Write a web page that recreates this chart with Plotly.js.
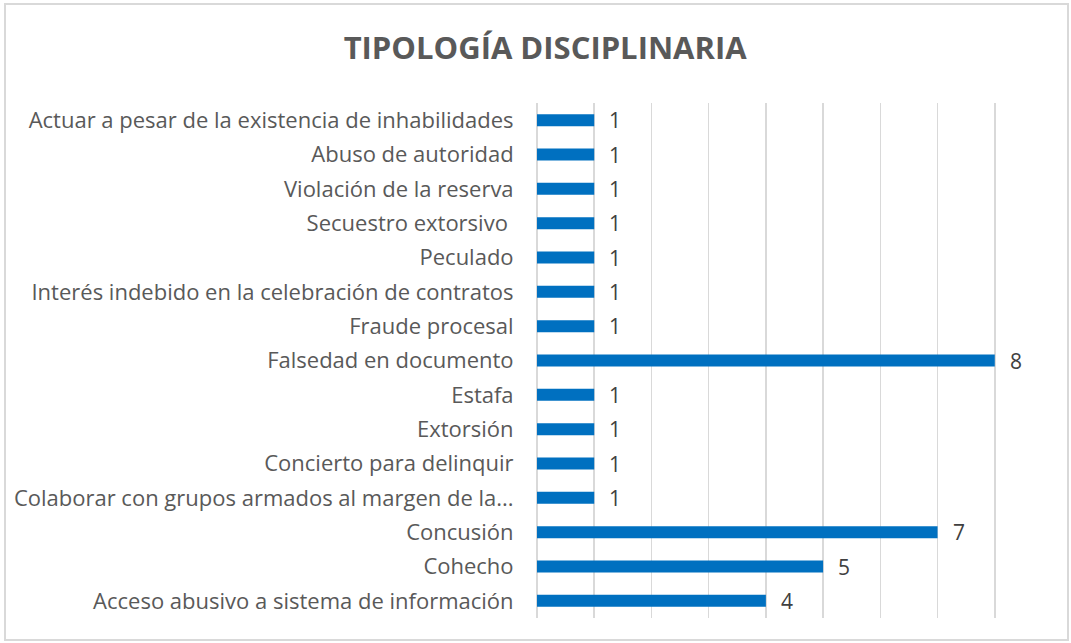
<!DOCTYPE html>
<html><head><meta charset="utf-8">
<script src="https://cdn.plot.ly/plotly-3.0.1.min.js"></script>
<style>
html,body{margin:0;padding:0;background:#fff;}
#chart{position:absolute;left:0;top:0;width:1071px;height:643px;}
#frame{position:absolute;left:4px;top:3px;width:1061px;height:634px;border:2px solid #d9d9d9;pointer-events:none;}
</style></head>
<body>
<div id="chart"></div>
<div id="frame"></div>
<script>
const categories = [
  "Acceso abusivo a sistema de información",
  "Cohecho",
  "Concusión",
  "Colaborar con grupos armados al margen de la...",
  "Concierto para delinquir",
  "Extorsión",
  "Estafa",
  "Falsedad en documento",
  "Fraude procesal",
  "Interés indebido en la celebración de contratos",
  "Peculado",
  "Secuestro extorsivo ",
  "Violación de la reserva",
  "Abuso de autoridad",
  "Actuar a pesar de la existencia de inhabilidades"
];
const values = [4, 5, 7, 1, 1, 1, 1, 8, 1, 1, 1, 1, 1, 1, 1];
const chartTitle = "TIPOLOGÍA DISCIPLINARIA";

const fontFam = "Open Sans, Liberation Sans, sans-serif";
const grey = "#595959";

const trace = {
  type: "bar",
  orientation: "h",
  y: categories,
  x: values,
  width: 0.35,
  marker: {color: "#0070C0"},
  hoverinfo: "x+y"
};

const annotations = categories.map((c, i) => ({
  x: values[i], y: c, xref: "x", yref: "y",
  text: String(values[i]),
  showarrow: false, xanchor: "left", yanchor: "middle",
  xshift: 13,
  font: {family: fontFam, size: 21, color: "#404040"}
}));

const layout = {
  width: 1071, height: 643,
  margin: {l: 537, r: 19, t: 103, b: 25, pad: 0},
  paper_bgcolor: "rgba(0,0,0,0)",
  plot_bgcolor: "rgba(0,0,0,0)",
  title: {text: "<b>" + chartTitle + "</b>", x: 0.509, xanchor: "center", y: 0.925, yanchor: "middle",
          font: {family: fontFam, size: 31, color: grey}},
  xaxis: {range: [0, 9], dtick: 1, showticklabels: false, showgrid: true,
          gridcolor: "#d9d9d9", gridwidth: 1.5, zeroline: true, zerolinecolor: "#d9d9d9", zerolinewidth: 1.5,
          showline: false, fixedrange: true},
  yaxis: {type: "category", categoryorder: "array", categoryarray: categories,
          range: [-0.5, 14.5], automargin: false, showgrid: false, zeroline: false,
          ticks: "outside", ticklen: 18, tickcolor: "rgba(0,0,0,0)",
          tickfont: {family: fontFam, size: 22, color: grey}, fixedrange: true},
  showlegend: false,
  bargap: 0.65,
  annotations: annotations
};

Plotly.newPlot("chart", [trace], layout, {displayModeBar: false, staticPlot: true});
</script>
</body></html>
